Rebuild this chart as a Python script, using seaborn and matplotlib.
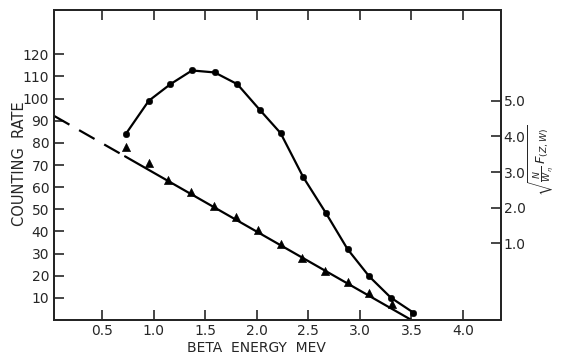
import numpy as np
import pandas as pd
import matplotlib
matplotlib.use("Agg")
import matplotlib.pyplot as plt
import seaborn as sns

# counting rate (circles)
rate_energy = [0.73, 0.95, 1.16, 1.37, 1.59, 1.81, 2.03, 2.23, 2.45, 2.67, 2.88, 3.09, 3.30, 3.52]
rate_counts = [84.2, 99.0, 106.5, 112.7, 111.8, 106.5, 94.8, 84.4, 64.5, 48.3, 32.0, 19.7, 10.1, 3.3]

# Fermi-Kurie points (triangles), plotted on counting-rate scale
kurie_energy = [0.73, 0.95, 1.14, 1.36, 1.58, 1.80, 2.01, 2.23, 2.44, 2.66, 2.88, 3.09, 3.31]
kurie_counts = [78.0, 70.8, 63.3, 57.6, 51.4, 46.5, 40.5, 34.2, 27.9, 22.3, 17.0, 12.1, 7.4]

# straight line fit: solid part and dashed extrapolation
fit_x = [0.72, 3.50]
fit_y = [73.9, 0.0]
extrap_x = [0.03, 0.72]
extrap_y = [92.2, 73.9]

x_ticks = [0.5, 1.0, 1.5, 2.0, 2.5, 3.0, 3.5, 4.0]
y_ticks = [10, 20, 30, 40, 50, 60, 70, 80, 90, 100, 110, 120]
right_ticks = [1.0, 2.0, 3.0, 4.0, 5.0]

sns.set_style("white")
plt.rcParams['font.family'] = ['DejaVu Sans']

fig = plt.figure(figsize=(5.66, 3.55), dpi=100)
ax = fig.add_axes([0.0954, 0.0986, 0.7898, 0.8732])

rate_df = pd.DataFrame({"energy": rate_energy, "counts": rate_counts})
kurie_df = pd.DataFrame({"energy": kurie_energy, "counts": kurie_counts})

sns.lineplot(data=rate_df, x="energy", y="counts", ax=ax, color="black", lw=1.6, sort=False)
sns.scatterplot(data=rate_df, x="energy", y="counts", ax=ax, color="black", marker="o",
                s=22, edgecolor="black", zorder=3)
sns.lineplot(x=fit_x, y=fit_y, ax=ax, color="black", lw=1.6)
ax.plot(extrap_x, extrap_y, color="black", lw=1.6, dashes=(8, 5))
sns.scatterplot(data=kurie_df, x="energy", y="counts", ax=ax, color="black", marker="^",
                s=34, edgecolor="black", zorder=3)

ax.set_xlim(0.03, 4.37)
ax.set_ylim(0, 140)
ax.set_xticks(x_ticks)
ax.set_xticklabels([f"{v:.1f}" for v in x_ticks])
ax.set_yticks(y_ticks)
ax.tick_params(axis="both", direction="in", length=7, width=1.2, labelsize=10,
               top=True, bottom=True, left=True, right=False)
ax.tick_params(axis="x", pad=3)
for s in ax.spines.values():
    s.set_linewidth(1.4)
    s.set_color("black")
ax.set_xlabel("")
ax.set_ylabel("")

fig.text(256 / 566, 1 - 348 / 355, "BETA  ENERGY  MEV", fontsize=10,
         ha="center", va="center")
fig.text(20 / 566, 1 - 164 / 355, "COUNTING  RATE", fontsize=10.5,
         ha="center", va="center", rotation=90)

ax2 = ax.twinx()
ax2.set_ylim(-1.149, 7.547)
ax2.set_yticks(right_ticks)
ax2.set_yticklabels([f"{v:.1f}" for v in right_ticks])
ax2.tick_params(axis="y", direction="in", length=7, width=1.2, labelsize=10, pad=2)
for s in ax2.spines.values():
    s.set_linewidth(1.4)
fig.text(541 / 566, 1 - 160 / 355, r"$\sqrt{\frac{N}{W_{\eta}}\,F_{(Z,W)}}$",
         fontsize=9.5, ha="center", va="center", rotation=90)

fig.savefig("out.png", dpi=100)
